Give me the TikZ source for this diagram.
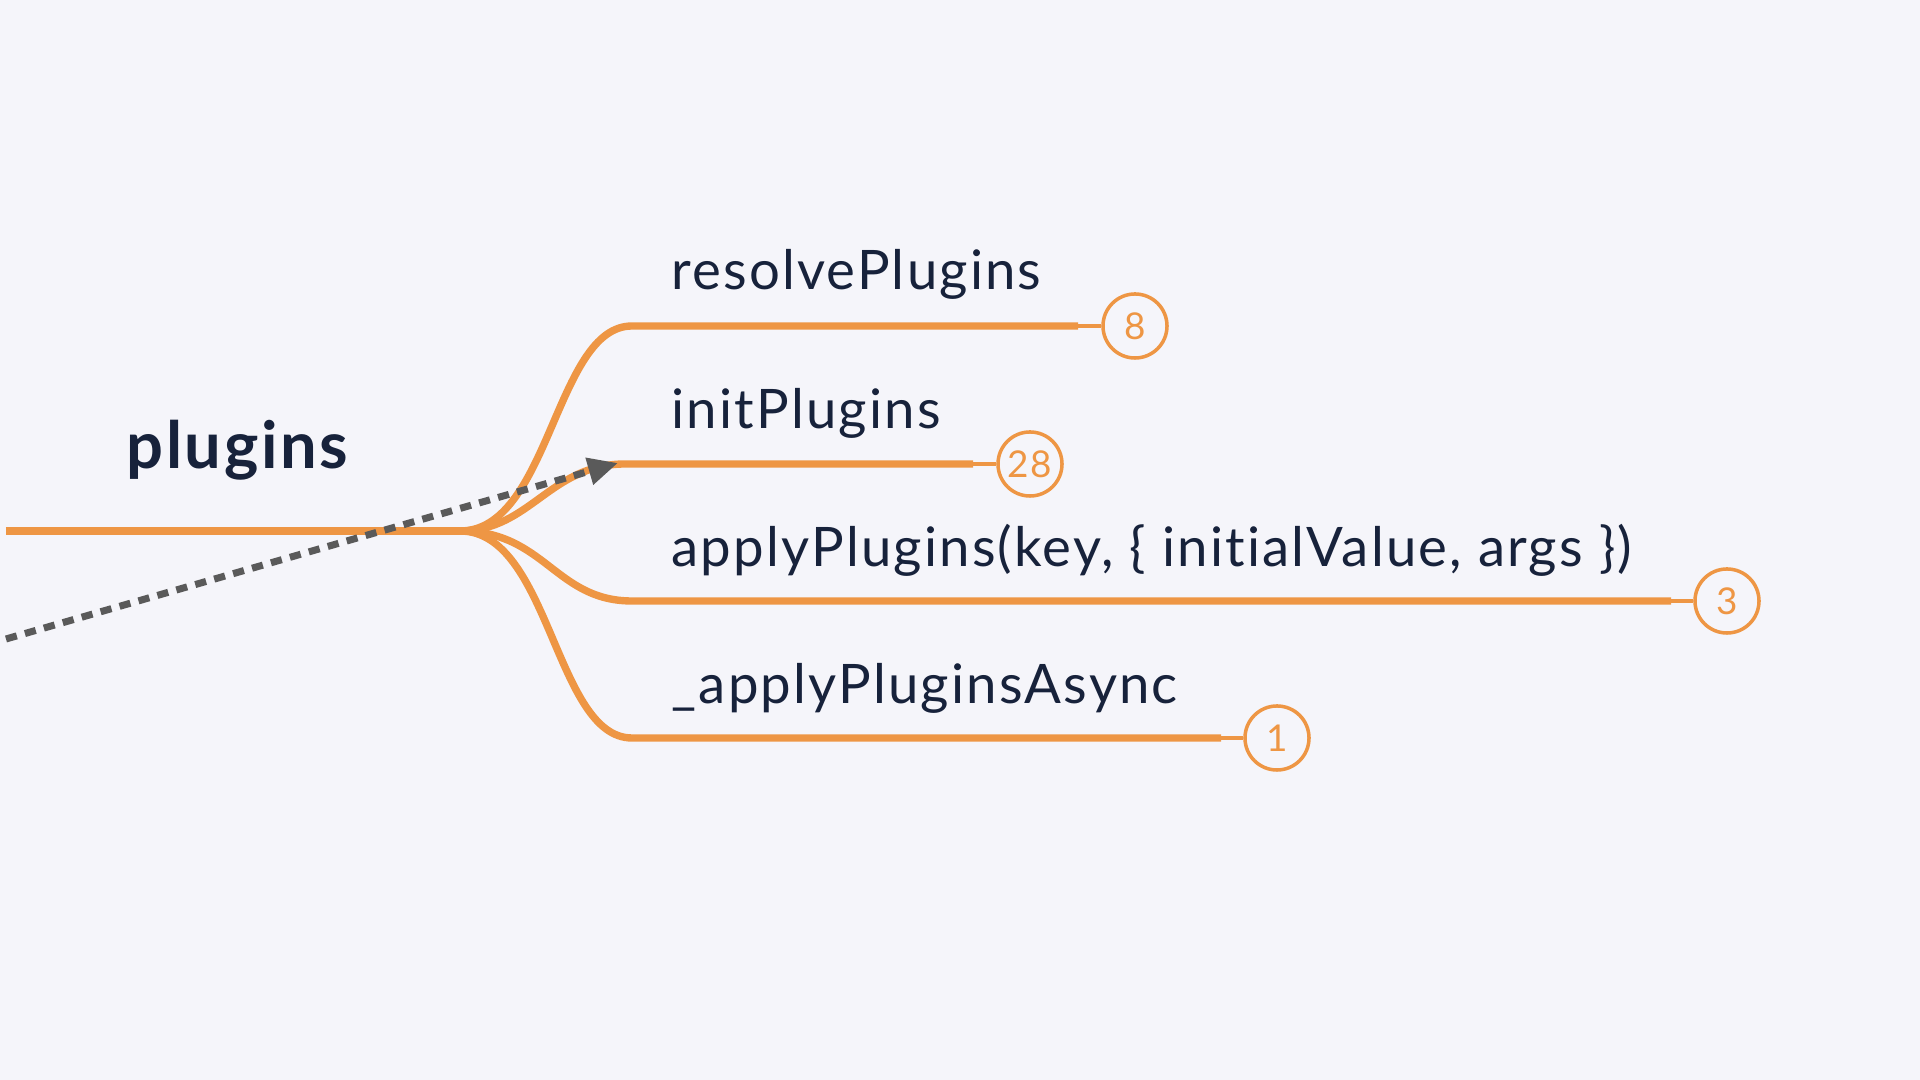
\documentclass[tikz,border=0pt]{standalone}
\usepackage{fontspec}
\setmainfont{Lato}[LetterSpace=4, Ligatures=NoCommon]
\usetikzlibrary{arrows.meta}
\definecolor{bg}{HTML}{F5F5FA}
\definecolor{branchc}{HTML}{EE9644}
\definecolor{ink}{HTML}{17223B}
\definecolor{linkc}{HTML}{5A5A5A}

\begin{document}
\begin{tikzpicture}[x=0.01cm, y=-0.01cm,
  branch/.style={draw=branchc, line width=2.1pt},
  stub/.style={draw=branchc, line width=1pt},
  count/.style={circle, draw=branchc, fill=bg, line width=1pt, minimum size=0.64cm, inner sep=0pt, text=branchc, font=\fontsize{10.5}{12}\selectfont},
  topic/.style={anchor=base west, text=ink, inner sep=0pt, font=\fontsize{15.5}{18}\selectfont},
  root/.style={anchor=base west, text=ink, inner sep=0pt, font=\bfseries\fontsize{18.5}{20}\selectfont},
  jump/.style={draw=linkc, line width=2pt, dash pattern=on 3.2pt off 2.4pt, -{Triangle[length=8.5pt, width=7.5pt]}}]
\fill[bg] (0,0) rectangle (1920,1080);
\useasboundingbox (0,0) rectangle (1920,1080);

\node[root] (plugins) at (126,469) {plugins};
\coordinate (in) at (6,531);
\coordinate (fork) at (460,531);

\node[topic] (resolve) at (671,290) {resolvePlugins};
\node[topic] (init) at (671,429) {initPlugins};
\node[topic] (apply) at (671,567) {applyPlugins(key, \{ initialValue, args \})};
\node[topic] (async) at (671,704) {\_applyPluginsAsync};

\coordinate (resolve-end) at (1078,326);
\coordinate (init-end) at (973,464);
\coordinate (apply-end) at (1671,601);
\coordinate (async-end) at (1221,738);

\node[count] (resolve-n) at (1135,326) {8};
\node[count] (init-n) at (1030,464) {28};
\node[count] (apply-n) at (1727,601) {3};
\node[count] (async-n) at (1277,738) {1};

\draw[branch] (in) -- (fork);
\draw[branch] (fork) .. controls (550,531) and (555,326) .. (632,326) -- (resolve-end);
\draw[branch] (fork) .. controls (530,531) and (550,464) .. (625,464) -- (init-end);
\draw[branch] (fork) .. controls (545,531) and (555,601) .. (632,601) -- (apply-end);
\draw[branch] (fork) .. controls (550,531) and (555,738) .. (632,738) -- (async-end);

\draw[stub] (resolve-end) -- (resolve-n);
\draw[stub] (init-end) -- (init-n);
\draw[stub] (apply-end) -- (apply-n);
\draw[stub] (async-end) -- (async-n);

\coordinate (from) at (6,639);
\coordinate (to) at (618,463);
\draw[jump] (from) -- (to);
\end{tikzpicture}
\end{document}
